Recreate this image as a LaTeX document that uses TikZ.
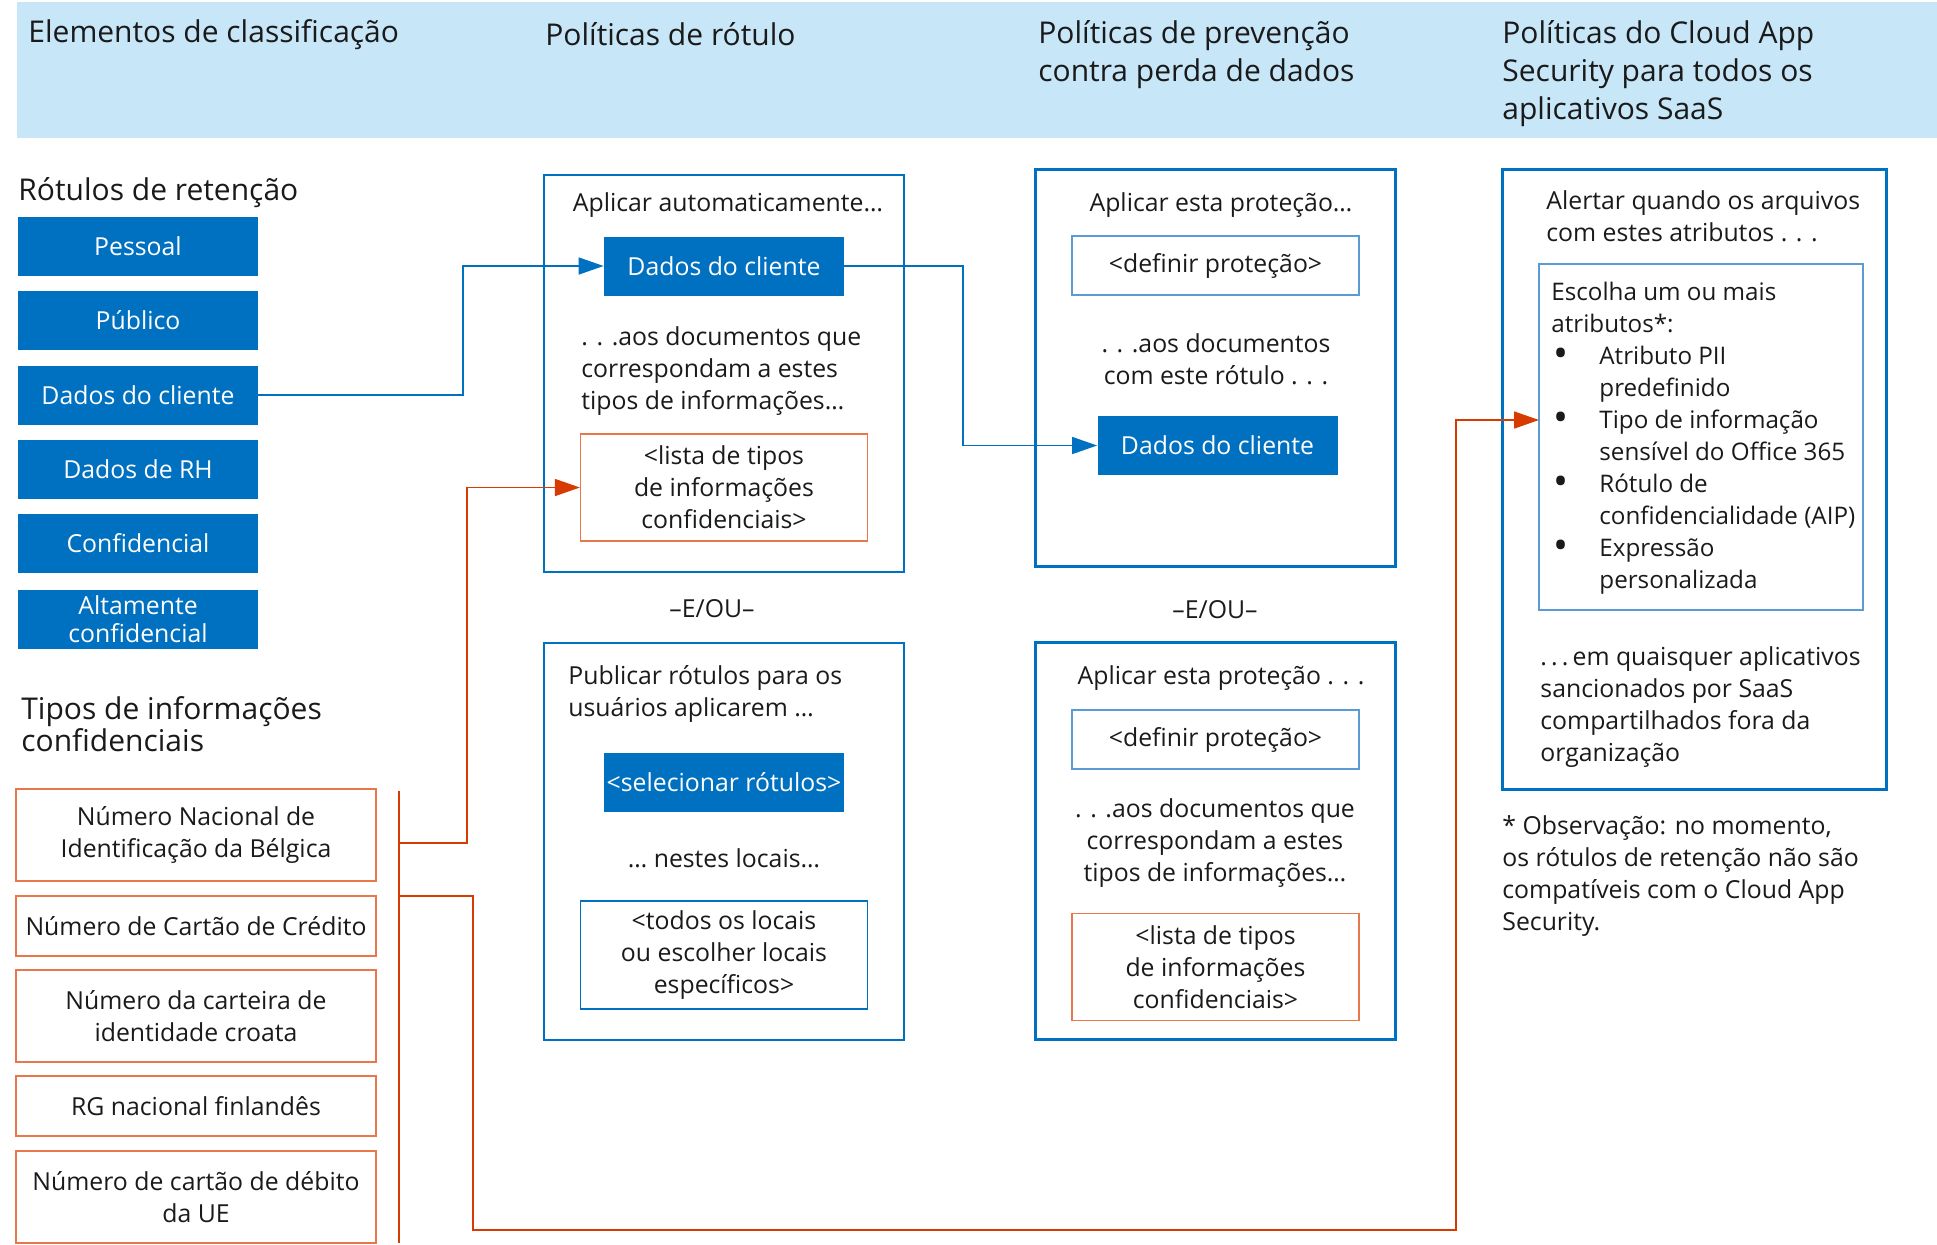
\documentclass[tikz,border=0pt]{standalone}
\usepackage{fontspec}
\setmainfont{Open Sans}
\usetikzlibrary{arrows.meta}

\definecolor{azul}{HTML}{0070C0}
\definecolor{azulclaro}{HTML}{5B9BD5}
\definecolor{faixa}{HTML}{C7E6F7}
\definecolor{laranja}{HTML}{D83B01}
\definecolor{laranjaclaro}{HTML}{E8774B}
\definecolor{texto}{HTML}{1A1A1A}

\newcommand{\marca}{\makebox[24pt][l]{\hspace{1pt}{\fontsize{20}{16}\selectfont\raisebox{-1.5pt}{•}}}}
\newcommand{\recuo}{\hspace*{24pt}}

\tikzset{
  titulo/.style={font=\fontsize{15}{19}\selectfont, text=texto, inner sep=0pt, align=left},
  corpo/.style={font=\fontsize{12.4}{16}\selectfont, text=texto, inner sep=0pt},
  rotulo/.style={corpo, fill=azul, text=white, minimum width=120pt, minimum height=29.5pt, align=center},
  tipo/.style={corpo, draw=laranjaclaro, line width=0.6pt, minimum width=180pt, align=center},
  moldura/.style={draw=azul, line width=1.1pt, minimum width=180pt, minimum height=198.5pt},
  caixinha/.style={corpo, draw=azulclaro, line width=0.6pt, minimum width=143.5pt, align=center},
  lista/.style={corpo, draw=laranjaclaro, line width=0.6pt, minimum width=143.5pt, minimum height=53.5pt, align=center},
  azulseta/.style={draw=azul, line width=0.8pt, -{Triangle[length=12.5pt,width=8.5pt]}},
  laranjaseta/.style={draw=laranja, line width=0.8pt, -{Triangle[length=12.5pt,width=8.5pt]}},
  barra/.style={draw=laranja, line width=1.4pt},
}

\begin{document}
\begin{tikzpicture}[x=0.5pt, y=-0.5pt]
\useasboundingbox (0,0) rectangle (1937,1244);

% faixa de cabecalho
\fill[faixa] (17,2) rectangle (1937,138);
\node[titulo, anchor=west] (hdA) at (28,35) {Elementos de classificação};
\node[titulo, anchor=west] (hdB) at (545,34) {Políticas de rótulo};
\node[titulo, anchor=west] (hdC) at (1038,55) {Políticas de prevenção\\contra perda de dados};
\node[titulo, anchor=west] (hdD) at (1502,74) {Políticas do Cloud App\\Security para todos os\\aplicativos SaaS};

% rotulos de retencao
\node[titulo, anchor=west] (tRet) at (18,193) {Rótulos de retenção};
\node[rotulo] (pessoal) at (138,246.5) {Pessoal};
\node[rotulo] (publico) at (138,320.5) {Público};
\node[rotulo] (cliRet) at (138,395) {Dados do cliente};
\node[rotulo] (rh) at (138,469.5) {Dados de RH};
\node[rotulo] (conf) at (138,543.5) {Confidencial};
\node[rotulo] (altConf) at (138,619) {Altamente\\[-2pt]confidencial};

% tipos de informacoes
\node[titulo, anchor=west] (tTipos) at (21,724) {Tipos de informações\\[-3pt]confidenciais};
\node[tipo, minimum height=46pt] (belga) at (196,835) {Número Nacional de\\Identificação da Bélgica};
\node[tipo, minimum height=30pt] (cartao) at (196,926) {Número de Cartão de Crédito};
\node[tipo, minimum height=46pt] (croata) at (196,1016) {Número da carteira de\\identidade croata};
\node[tipo, minimum height=30pt] (finl) at (196,1106) {RG nacional finlandês};
\node[tipo, minimum height=46pt] (debito) at (196,1197) {Número de cartão de débito\\da UE};

% politicas de rotulo
\node[moldura] (caixaAuto) at (724,373.5) {};
\node[corpo] (tAuto) at (728,205) {Aplicar automaticamente…};
\node[rotulo] (cliAuto) at (724,266) {Dados do cliente};
\node[corpo, anchor=west, align=left] (tDocA) at (581,371) {. . .aos documentos que\\correspondam a estes\\tipos de informações…};
\node[lista] (listaA) at (724,487.5) {<lista de tipos\\de informações\\confidenciais>};
\node[corpo] (eouA) at (712,609) {--E/OU--};
\node[moldura] (caixaPub) at (724,841.5) {};
\node[corpo, anchor=west, align=left] (tPub) at (568,694) {Publicar rótulos para os\\usuários aplicarem …};
\node[rotulo] (selRot) at (724,782.5) {<selecionar rótulos>};
\node[corpo] (tLoc) at (724,858) {… nestes locais…};
\node[caixinha, draw=azul, minimum height=54pt] (locais) at (724,955) {<todos os locais\\ou escolher locais\\específicos>};

% prevencao contra perda de dados
\node[moldura] (caixaDlp) at (1215.5,368) {};
\node[corpo] (tProtA) at (1221,205) {Aplicar esta proteção…};
\node[caixinha, minimum height=29.5pt] (protA) at (1215.5,265.5) {<definir proteção>};
\node[corpo, align=center] (tRotulo) at (1216,359) {. . .aos documentos\\com este rótulo . . .};
\node[rotulo] (cliDlp) at (1217.5,445.5) {Dados do cliente};
\node[corpo] (eouB) at (1215,610) {--E/OU--};
\node[moldura] (caixaDlpB) at (1215.5,841) {};
\node[corpo] (tProtB) at (1221,678) {Aplicar esta proteção . . .};
\node[caixinha, minimum height=29.5pt] (protB) at (1215.5,739.5) {<definir proteção>};
\node[corpo, align=center] (tDocB) at (1215,843) {. . .aos documentos que\\correspondam a estes\\tipos de informações…};
\node[lista] (listaB) at (1215.5,967) {<lista de tipos\\de informações\\confidenciais>};

% cloud app security
\node[moldura, minimum width=192pt, minimum height=310pt] (caixaCas) at (1694.5,479.5) {};
\node[corpo, anchor=west, align=left] (tAlerta) at (1546,216) {Alertar quando os arquivos\\com estes atributos . . .};
\node[caixinha, minimum width=162pt, minimum height=173pt] (attrs) at (1701,437) {};
\node[corpo, font=\fontsize{12.1}{16}\selectfont, anchor=west, align=left] (tAttrs) at (1551,438) {Escolha um ou mais\\atributos*:\\
  \marca Atributo PII\\\recuo predefinido\\
  \marca Tipo de informação\\\recuo sensível do Office 365\\
  \marca Rótulo de\\\recuo confidencialidade (AIP)\\
  \marca Expressão\\\recuo personalizada};
\node[corpo, anchor=west, align=left] (tApps) at (1540,707) {.\,.\,.\,em quaisquer aplicativos\\sancionados por SaaS\\compartilhados fora da\\organização};
\node[corpo, anchor=west, align=left] (nota) at (1502,876) {* Observação: no momento,\\os rótulos de retenção não são\\compatíveis com o Cloud App\\Security.};

% conectores azuis
\coordinate (b1) at (463,0);
\coordinate (b2) at (963,0);
\draw[azulseta] (cliRet.east) -- (cliRet.east -| b1) |- (cliAuto.west);
\draw[azulseta] (cliAuto.east) -- (cliAuto.east -| b2) |- (cliDlp.west);

% conectores laranja
\coordinate (barTopo) at (399,791);
\coordinate (barBase) at (399,1243);
\coordinate (j1) at (399,843);
\coordinate (c1) at (467,843);
\coordinate (j2) at (399,896);
\coordinate (c2) at (473,896);
\coordinate (c3) at (473,1230);
\coordinate (c4) at (1456,1230);
\coordinate (alvo) at (1539,420);
\draw[barra] (barTopo) -- (barBase);
\draw[laranjaseta] (j1) -- (c1) |- (listaA.west);
\draw[laranjaseta] (j2) -- (c2) -- (c3) -- (c4) |- (alvo);
\end{tikzpicture}
\end{document}
